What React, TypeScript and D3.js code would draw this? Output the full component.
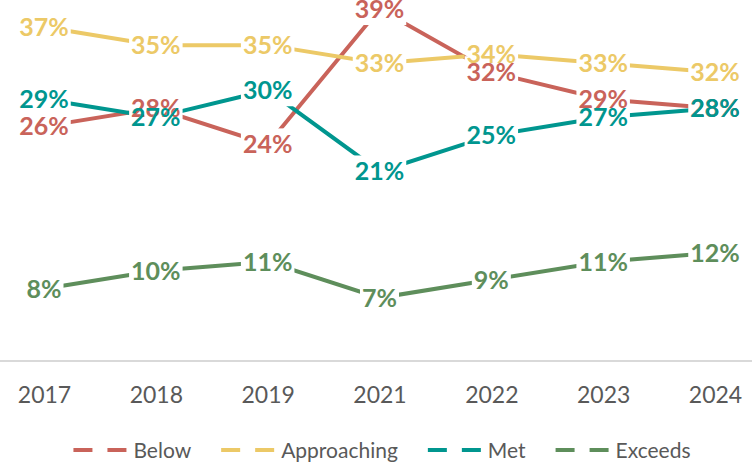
import React, { useEffect, useRef } from 'react';
import * as d3 from 'd3';

const years = ['2017', '2018', '2019', '2021', '2022', '2023', '2024'];
const below = [26, 28, 24, 39, 32, 29, 28];
const approaching = [37, 35, 35, 33, 34, 33, 32];
const met = [29, 27, 30, 21, 25, 27, 28];
const exceeds = [8, 10, 11, 7, 9, 11, 12];

const seriesNames = ['Below', 'Approaching', 'Met', 'Exceeds'];
const seriesColors = ['#C9635A', '#ECC967', '#00968F', '#5E8E5B'];

export default function App() {
  const ref = useRef<SVGSVGElement>(null);

  useEffect(() => {
    document.body.style.margin = '0';
    const width = 752;
    const height = 463;
    const font = 'Lato, "Liberation Sans", sans-serif';

    const svg = d3.select(ref.current).attr('width', width).attr('height', height);
    svg.selectAll('*').remove();

    const x = d3.scalePoint<string>().domain(years).range([44, 715]);
    const y = d3.scaleLinear().domain([0, 40]).range([361, 0]);

    const series = seriesNames.map((name, i) => ({
      name,
      color: seriesColors[i],
      values: [below, approaching, met, exceeds][i],
    }));

    // baseline
    svg
      .append('line')
      .attr('x1', 0)
      .attr('x2', width)
      .attr('y1', y(0))
      .attr('y2', y(0))
      .attr('stroke', '#d9d9d9')
      .attr('stroke-width', 2);

    const xAxis = svg
      .append('g')
      .attr('transform', `translate(0, ${y(0)})`)
      .call(d3.axisBottom(x).tickSize(0).tickPadding(26));
    xAxis.select('.domain').remove();
    xAxis
      .selectAll('text')
      .attr('font-family', font)
      .attr('font-size', 23)
      .attr('fill', '#595959');

    const defs = svg.append('defs');
    const linesG = svg.append('g');
    const labelsG = svg.append('g');

    const line = d3
      .line<number>()
      .x((d, i) => x(years[i]) as number)
      .y((d) => y(d));

    series.forEach((s, si) => {
      const mask = defs
        .append('mask')
        .attr('id', `gap-${si}`)
        .attr('maskUnits', 'userSpaceOnUse')
        .attr('x', 0)
        .attr('y', 0)
        .attr('width', width)
        .attr('height', height);
      mask.append('rect').attr('width', width).attr('height', height).attr('fill', 'white');

      s.values.forEach((v, i) => {
        const cx = x(years[i]) as number;
        const cy = y(v);
        const t = labelsG
          .append('text')
          .attr('x', cx)
          .attr('y', cy + 9)
          .attr('text-anchor', 'middle')
          .attr('font-family', font)
          .attr('font-size', 25)
          .attr('font-weight', 'bold')
          .attr('fill', s.color)
          .text(`${v}%`);
        const w = (t.node() as SVGTextElement).getComputedTextLength();
        mask
          .append('rect')
          .attr('x', cx - w / 2 - 2)
          .attr('y', cy - 16)
          .attr('width', w + 4)
          .attr('height', 32)
          .attr('fill', 'black');
      });

      linesG
        .append('path')
        .datum(s.values)
        .attr('d', line)
        .attr('fill', 'none')
        .attr('stroke', s.color)
        .attr('stroke-width', 4)
        .attr('mask', `url(#gap-${si})`);
    });

    // legend
    const legend = svg.append('g');
    let offset = 0;
    series.forEach((s) => {
      const item = legend.append('g').attr('transform', `translate(${offset}, 0)`);
      item
        .append('line')
        .attr('x1', 0)
        .attr('x2', 54)
        .attr('stroke', s.color)
        .attr('stroke-width', 4)
        .attr('stroke-dasharray', '19,15');
      const t = item
        .append('text')
        .attr('x', 60)
        .attr('y', 7.5)
        .attr('font-family', font)
        .attr('font-size', 21)
        .attr('fill', '#595959')
        .text(s.name);
      const w = (t.node() as SVGTextElement).getComputedTextLength();
      offset += 60 + w + 30;
    });
    const total = offset - 30;
    legend.attr('transform', `translate(${382 - total / 2}, 450)`);
  }, []);

  return <svg ref={ref} style={{ display: 'block' }}></svg>;
}
